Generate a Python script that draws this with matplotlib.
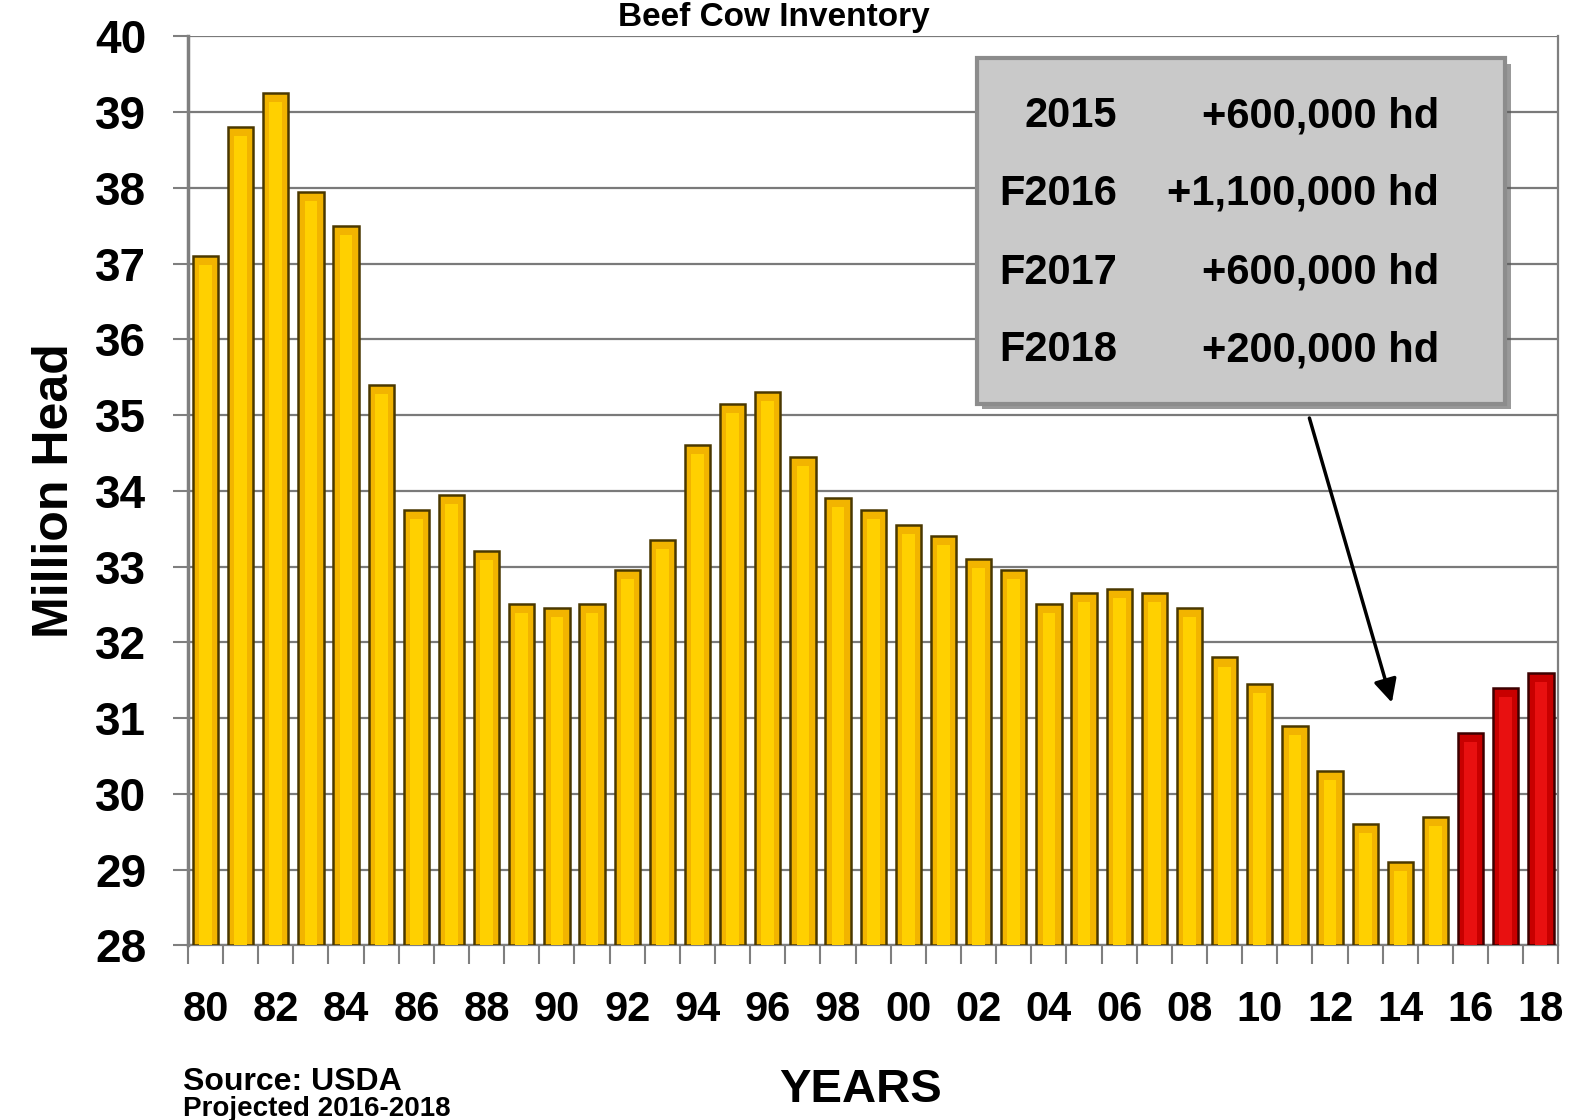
import matplotlib.pyplot as plt
import matplotlib.patheffects as pe
from matplotlib.patches import Rectangle

plt.rcParams['font.family'] = ['Liberation Sans', 'DejaVu Sans']
plt.rcParams['font.weight'] = 'bold'
plt.rcParams['axes.labelweight'] = 'bold'

years = list(range(1980, 2019))
cows = [37.1, 38.8, 39.25, 37.95, 37.5, 35.4, 33.75, 33.95, 33.2, 32.5,
        32.45, 32.5, 32.95, 33.35, 34.6, 35.15, 35.3, 34.45, 33.9, 33.75,
        33.55, 33.4, 33.1, 32.95, 32.5, 32.65, 32.7, 32.65, 32.45, 31.8,
        31.45, 30.9, 30.3, 29.6, 29.1, 29.7, 30.8, 31.4, 31.6]
projected = [2016, 2017, 2018]
tick_labels = [str(y)[2:] for y in years[::2]]

box_years = ['2015', 'F2016', 'F2017', 'F2018']
box_changes = ['+600,000 hd', '+1,100,000 hd', '+600,000 hd', '+200,000 hd']

fig = plt.figure(figsize=(15.79, 11.20), dpi=100)
ax = fig.add_axes([0.119, 0.156, 0.868, 0.8116])

x = list(range(len(years)))
heights = [v - 28 for v in cows]
colors = ['#C80000' if y in projected else '#F2B400' for y in years]
shine = ['#E81010' if y in projected else '#FFD000' for y in years]
edges = ['#3d0000' if y in projected else '#4a3800' for y in years]
ax.bar(x, heights, bottom=28, width=0.72, color=colors,
       edgecolor=edges, linewidth=1.8, zorder=3)
# lighter centre strip to mimic the bevelled bars
ax.bar(x, [h - 0.12 for h in heights], bottom=28, width=0.36, color=shine,
       linewidth=0, zorder=4)

ax.set_xlim(-0.5, len(years) - 0.5)
ax.set_ylim(28, 40)
ax.set_yticks(range(28, 41))
ax.tick_params(axis='y', labelsize=33, length=11, width=1.5, color='#7f7f7f', pad=19)
ax.set_xticks(x[::2])
ax.set_xticklabels(tick_labels)
ax.set_xticks([i - 0.5 for i in range(len(years) + 1)], minor=True)
ax.tick_params(axis='x', which='major', labelsize=30, length=0, pad=32)
ax.tick_params(axis='x', which='minor', length=14, width=1.5, color='#7f7f7f')
ax.grid(axis='y', color='#7a7a7a', linewidth=1.6, zorder=0)
for side in ['left', 'right', 'bottom', 'top']:
    ax.spines[side].set_color('#7f7f7f')
    ax.spines[side].set_linewidth(1.6)
ax.spines['left'].set_linewidth(2.5)
ax.spines['top'].set_visible(False)

ax.set_ylabel('Million Head', fontsize=36, labelpad=12)
fig.text(0.545, 0.016, 'YEARS', fontsize=34, ha='center', va='baseline')
fig.text(0.116, 0.027, 'Source: USDA', fontsize=23, ha='left', va='baseline')
fig.text(0.116, 0.004, 'Projected 2016-2018', fontsize=20, ha='left', va='baseline')
fig.text(0.49, 0.998, 'Beef Cow Inventory', fontsize=24, ha='center', va='top')

box = Rectangle((0.5755, 0.596), 0.3855, 0.38, transform=ax.transAxes,
                facecolor='#c9c9c9', edgecolor='#8c8c8c', linewidth=3, zorder=5,
                path_effects=[pe.withSimplePatchShadow(offset=(4, -4), shadow_rgbFace='#555555', alpha=0.6)])
ax.add_patch(box)
rows_y = [0.912, 0.827, 0.740, 0.6546]
for ry, yl, ch in zip(rows_y, box_years, box_changes):
    ax.text(0.678, ry, yl, transform=ax.transAxes, fontsize=30, ha='right', va='center', zorder=6)
    ax.text(0.913, ry, ch, transform=ax.transAxes, fontsize=30, ha='right', va='center', zorder=6)

ax.annotate('', xy=(0.879, 0.264), xytext=(0.8177, 0.583), xycoords='axes fraction',
            arrowprops=dict(arrowstyle='-|>', color='black', lw=2.5, mutation_scale=35), zorder=6)

fig.savefig('out.png', dpi=100)
